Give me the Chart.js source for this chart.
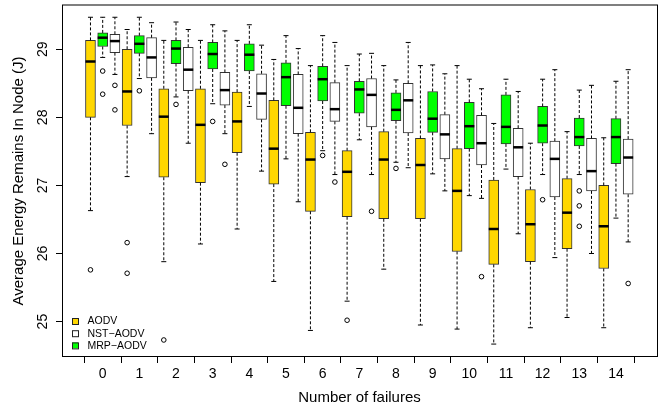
<!DOCTYPE html>
<html>
<head>
<meta charset="utf-8">
<script src="https://cdn.jsdelivr.net/npm/chart.js@4/dist/chart.umd.min.js"></script>
<style>
  html, body { margin: 0; padding: 0; background: #fff; }
</style>
</head>
<body>
<canvas id="chart" width="662" height="412"></canvas>
<script>
// x categories (number of failures) and y tick values
const failures = [0, 1, 2, 3, 4, 5, 6, 7, 8, 9, 10, 11, 12, 13, 14];
const yTicks = [25, 26, 27, 28, 29];

// [lower whisker, Q1, median, Q3, upper whisker] for each failure count
const aodvStats = [
    [26.63, 28.00, 28.82, 29.13, 29.47],
    [27.13, 27.88, 28.38, 29.00, 29.29],
    [25.88, 27.12, 28.01, 28.42, 29.13],
    [26.14, 27.04, 27.89, 28.42, 29.13],
    [26.36, 27.48, 27.94, 28.37, 29.13],
    [25.59, 27.02, 27.54, 28.25, 28.85],
    [24.87, 26.62, 27.38, 27.78, 28.76],
    [25.30, 26.54, 27.20, 27.51, 28.76],
    [25.77, 26.51, 27.38, 27.79, 28.76],
    [24.95, 26.51, 27.30, 27.69, 28.76],
    [24.89, 26.03, 26.92, 27.54, 28.76],
    [24.67, 25.84, 26.36, 27.08, 27.91],
    [24.91, 25.88, 26.43, 26.94, 27.62],
    [25.06, 26.07, 26.60, 27.10, 27.79],
    [24.91, 25.78, 26.40, 27.00, 27.70]
];
const nstStats = [
    [28.63, 28.95, 29.12, 29.22, 29.47],
    [27.76, 28.58, 28.88, 29.17, 29.39],
    [27.62, 28.39, 28.70, 29.03, 29.29],
    [27.76, 28.18, 28.40, 28.66, 29.27],
    [27.21, 27.97, 28.35, 28.64, 29.06],
    [26.76, 27.76, 28.14, 28.63, 29.01],
    [27.16, 27.94, 28.12, 28.51, 29.10],
    [27.16, 27.86, 28.33, 28.57, 28.94],
    [27.26, 27.77, 28.25, 28.50, 29.10],
    [26.92, 27.39, 27.75, 28.04, 28.64],
    [26.81, 27.30, 27.62, 28.03, 28.42],
    [26.29, 27.13, 27.56, 27.84, 28.38],
    [25.94, 26.83, 27.39, 27.65, 28.70],
    [26.00, 26.92, 27.21, 27.69, 28.47],
    [26.17, 26.87, 27.41, 27.68, 28.70]
];
const mrpStats = [
    [28.88, 29.04, 29.17, 29.24, 29.47],
    [28.57, 28.94, 29.08, 29.20, 29.47],
    [28.30, 28.79, 29.01, 29.13, 29.40],
    [28.20, 28.71, 28.93, 29.10, 29.36],
    [28.16, 28.68, 28.92, 29.08, 29.36],
    [27.39, 28.17, 28.59, 28.80, 29.20],
    [27.51, 28.24, 28.56, 28.75, 29.20],
    [27.67, 28.06, 28.41, 28.53, 28.93],
    [27.34, 27.95, 28.11, 28.36, 28.55],
    [27.17, 27.78, 27.98, 28.38, 28.77],
    [26.85, 27.54, 27.87, 28.22, 28.56],
    [27.24, 27.61, 27.86, 28.33, 28.56],
    [27.16, 27.62, 27.88, 28.16, 28.56],
    [27.16, 27.58, 27.71, 27.99, 28.40],
    [26.52, 27.32, 27.71, 27.98, 28.53]
];

// outliers as [failure count, value]
const aodvOutliers = [[0, 25.76], [1, 26.16], [1, 25.71], [2, 24.73], [7, 25.02]];
const nstOutliers = [[0, 28.47], [0, 28.11], [3, 27.31], [6, 27.05], [7, 26.62], [10, 25.66], [14, 25.56]];
const mrpOutliers = [[0, 28.68], [0, 28.34], [1, 28.39], [2, 28.19], [3, 27.94], [6, 27.44], [8, 27.25],
    [12, 26.79], [13, 26.92], [13, 26.70], [13, 26.40]];

const fontFamily = "'Liberation Sans', Arial, Helvetica, sans-serif";
Chart.defaults.font.family = fontFamily;
Chart.defaults.color = '#000';

// boxes are drawn left to right as AODV, MRP-AODV, NST-AODV inside each group
const series = [
    { label: 'AODV', color: '#ffd700', stats: aodvStats, outliers: aodvOutliers, shift: -1 / 3 },
    { label: 'NST\u2212AODV', color: '#ffffff', stats: nstStats, outliers: nstOutliers, shift: 1 / 3 },
    { label: 'MRP\u2212AODV', color: '#00ff00', stats: mrpStats, outliers: mrpOutliers, shift: 0 }
];

const boxWidth = 10;

const datasets = [];
series.forEach(s => {
    datasets.push({
        type: 'bar',
        label: s.label,
        data: s.stats.map((v, i) => ({ x: failures[i] + s.shift, y: [v[1], v[3]] })),
        backgroundColor: s.color,
        borderColor: '#333',
        borderWidth: 1,
        borderSkipped: false,
        barThickness: boxWidth,
        grouped: false
    });
});
series.forEach(s => {
    datasets.push({
        type: 'scatter',
        label: s.label + ' outliers',
        data: s.outliers.map(o => ({ x: o[0] + s.shift, y: o[1] })),
        pointStyle: 'circle',
        pointRadius: 2.3,
        pointBorderWidth: 1,
        pointBorderColor: '#000',
        pointBackgroundColor: 'rgba(0,0,0,0)'
    });
});

// whiskers, staples and medians
const boxExtras = {
    id: 'boxExtras',
    afterDatasetsDraw(chart) {
        const { ctx, scales: { x, y } } = chart;
        ctx.save();
        ctx.strokeStyle = '#000';
        series.forEach(s => {
            s.stats.forEach((v, i) => {
                const cx = x.getPixelForValue(failures[i] + s.shift);
                const lo = y.getPixelForValue(v[0]);
                const q1 = y.getPixelForValue(v[1]);
                const med = y.getPixelForValue(v[2]);
                const q3 = y.getPixelForValue(v[3]);
                const hi = y.getPixelForValue(v[4]);

                ctx.lineWidth = 1;
                ctx.setLineDash([3, 2]);
                ctx.beginPath();
                ctx.moveTo(cx, q3); ctx.lineTo(cx, hi);
                ctx.moveTo(cx, q1); ctx.lineTo(cx, lo);
                ctx.stroke();

                ctx.setLineDash([]);
                ctx.beginPath();
                ctx.moveTo(cx - boxWidth / 4, hi); ctx.lineTo(cx + boxWidth / 4, hi);
                ctx.moveTo(cx - boxWidth / 4, lo); ctx.lineTo(cx + boxWidth / 4, lo);
                ctx.stroke();

                ctx.lineWidth = 2.5;
                ctx.beginPath();
                ctx.moveTo(cx - boxWidth / 2, med); ctx.lineTo(cx + boxWidth / 2, med);
                ctx.stroke();
            });
        });
        ctx.restore();
    },
    afterDraw(chart) {
        const { ctx, chartArea: a } = chart;
        ctx.save();
        // frame round the plot
        ctx.strokeStyle = '#000';
        ctx.lineWidth = 1;
        ctx.strokeRect(a.left + 0.5, a.top, a.right - a.left, a.bottom - a.top - 0.5);

        // legend in the lower left corner
        ctx.font = '10.5px ' + fontFamily;
        ctx.textBaseline = 'middle';
        ctx.textAlign = 'left';
        series.forEach((s, i) => {
            const rowY = a.bottom - 36 + i * 12.2;
            ctx.fillStyle = s.color;
            ctx.fillRect(a.left + 10, rowY - 3, 6, 6);
            ctx.strokeStyle = '#222';
            ctx.strokeRect(a.left + 10 + 0.5, rowY - 3 + 0.5, 6, 6);
            ctx.fillStyle = '#000';
            ctx.fillText(s.label, a.left + 25.5, rowY + 0.5);
        });
        ctx.restore();
    }
};

new Chart(document.getElementById('chart'), {
    type: 'bar',
    data: { datasets: datasets },
    options: {
        responsive: false,
        animation: false,
        devicePixelRatio: 1,
        layout: { padding: { top: 2.5, right: 4, bottom: 0, left: 0 } },
        plugins: { legend: { display: false }, tooltip: { enabled: false } },
        scales: {
            x: {
                type: 'linear',
                min: -1.11,
                max: 15.12,
                offset: false,
                afterBuildTicks: axis => { axis.ticks = failures.map(v => ({ value: v })); },
                afterFit: axis => { axis.height = 55; axis.paddingLeft = 0; axis.paddingRight = 0; },
                grid: { display: true, drawOnChartArea: false, drawTicks: true, tickLength: 6, color: '#000' },
                border: { display: false },
                ticks: { font: { size: 14 }, padding: 3, maxRotation: 0, autoSkip: false },
                title: { display: true, text: 'Number of failures', font: { size: 15 }, padding: { top: 0, bottom: 5 } }
            },
            y: {
                type: 'linear',
                min: 24.48,
                max: 29.65,
                afterBuildTicks: axis => { axis.ticks = yTicks.map(v => ({ value: v })); },
                afterFit: axis => { axis.width = 62; axis.paddingTop = 0; axis.paddingBottom = 0; },
                grid: { display: true, drawOnChartArea: false, drawTicks: true, tickLength: 6, color: '#000' },
                border: { display: false },
                ticks: { font: { size: 14 }, padding: 5, minRotation: 90, maxRotation: 90, crossAlign: 'center' },
                title: { display: true, text: 'Average Energy Remains In Node (J)', font: { size: 15 }, padding: { top: 10, bottom: 0 } }
            }
        }
    },
    plugins: [boxExtras]
});
</script>
</body>
</html>
